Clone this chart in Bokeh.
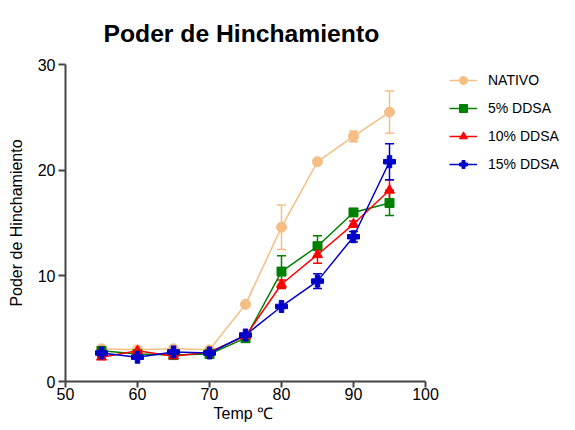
from bokeh.plotting import figure
from bokeh.models import (ColumnDataSource, Whisker, TeeHead, Legend, LegendItem,
                          Range1d, FixedTicker, Title)
from bokeh.embed import file_html
from bokeh.resources import INLINE

temps = [55, 60, 65, 70, 75, 80, 85, 90, 95]
nativo = [3.1, 3.0, 3.1, 3.0, 7.3, 14.6, 20.8, 23.2, 25.5]
nativo_err = [0.1, 0.1, 0.1, 0.1, 0.1, 2.1, 0.2, 0.5, 2.0]
ddsa5 = [2.9, 2.6, 2.5, 2.6, 4.1, 10.4, 12.8, 16.0, 16.9]
ddsa5_err = [0.1, 0.1, 0.1, 0.1, 0.1, 1.5, 1.0, 0.1, 1.2]
ddsa10 = [2.3, 2.9, 2.4, 2.8, 4.3, 9.2, 12.0, 14.9, 18.1]
ddsa10_err = [0.1, 0.1, 0.1, 0.1, 0.2, 0.4, 0.8, 0.3, 1.0]
ddsa15 = [2.7, 2.3, 2.8, 2.7, 4.4, 7.1, 9.5, 13.7, 20.8]
ddsa15_err = [0.1, 0.1, 0.1, 0.1, 0.1, 0.1, 0.7, 0.5, 1.7]

series_names = ["NATIVO", "5% DDSA", "10% DDSA", "15% DDSA"]
x_ticks = [50, 60, 70, 80, 90, 100]
y_ticks = [0, 10, 20, 30]

FONT = "Liberation Sans"

# frame is 502 px wide; axis drawn only over 50..100 (360 px), the rest hosts the legend
p = figure(width=567, height=422, output_backend="svg", toolbar_location=None,
           x_range=Range1d(50, 50 + 502 / 7.2), y_range=Range1d(0, 30),
           min_border_left=65, min_border_right=0, min_border_top=64,
           min_border_bottom=41)
p.outline_line_color = None
p.xgrid.visible = False
p.ygrid.visible = False

p.title.text = "Poder de Hinchamiento"
p.title.text_font = FONT
p.title.text_font_size = "24.7px"
p.title.text_font_style = "bold"
p.title.align = "left"
p.title.offset = 38
p.title.text_color = "black"
p.title.standoff = 35

for ax in (p.xaxis[0], p.yaxis[0]):
    ax.axis_line_color = "#444444"
    ax.axis_line_width = 2
    ax.major_tick_line_color = "#444444"
    ax.major_tick_line_width = 2
    ax.major_tick_in = 0
    ax.major_tick_out = 7
    ax.minor_tick_line_color = None
    ax.major_label_text_font = FONT
    ax.major_label_text_font_size = "16px"
    ax.major_label_text_color = "black"
    ax.axis_label_text_font = FONT
    ax.axis_label_text_font_style = "normal"
    ax.axis_label_text_color = "black"

p.xaxis.bounds = (50, 100)
p.xaxis.ticker = FixedTicker(ticks=x_ticks)
p.xaxis.major_tick_out = 6
p.xaxis.major_label_standoff = 0
p.yaxis.ticker = FixedTicker(ticks=y_ticks)
p.yaxis.axis_label = "Poder de Hinchamiento"
p.yaxis.axis_label_text_font_size = "16px"
p.yaxis.axis_label_standoff = 10
p.yaxis.major_label_standoff = 3

xlabel = Title(text="Temp \u2103", text_font=FONT, text_font_size="16px",
               text_font_style="normal", text_color="black",
               align="left", offset=148, standoff=0)
p.add_layout(xlabel, "below")

styles = [
    ("#F4BE85", "circle", 10),
    ("#008000", "square", 9),
    ("#FF0000", "triangle", 10),
    ("#0000C8", "plus", 12),
]
values = [nativo, ddsa5, ddsa10, ddsa15]
errors = [nativo_err, ddsa5_err, ddsa10_err, ddsa15_err]

items = []
for name, vals, errs, (color, marker, size) in zip(series_names, values, errors, styles):
    src = ColumnDataSource(dict(
        x=temps, y=vals,
        upper=[v + e for v, e in zip(vals, errs)],
        lower=[v - e for v, e in zip(vals, errs)],
    ))
    w = Whisker(source=src, base="x", upper="upper", lower="lower",
                line_color=color, line_width=1.5, level="underlay",
                upper_head=TeeHead(size=9, line_color=color, line_width=1.5),
                lower_head=TeeHead(size=9, line_color=color, line_width=1.5))
    p.add_layout(w)
    lr = p.line("x", "y", source=src, line_color=color, line_width=1.5)
    sr = p.scatter("x", "y", source=src, marker=marker, size=size,
                   fill_color=color, line_color=color)
    items.append(LegendItem(label=name, renderers=[lr, sr]))

legend = Legend(items=items, location=(384, 207))
legend.border_line_color = None
legend.background_fill_alpha = 0
legend.padding = 0
legend.margin = 0
legend.glyph_width = 28
legend.glyph_height = 20
legend.label_height = 20
legend.spacing = 8
legend.label_standoff = 11
legend.label_text_font = FONT
legend.label_text_font_size = "14px"
legend.label_text_color = "black"
p.add_layout(legend)

open("out.html", "w").write(file_html(p, INLINE))
